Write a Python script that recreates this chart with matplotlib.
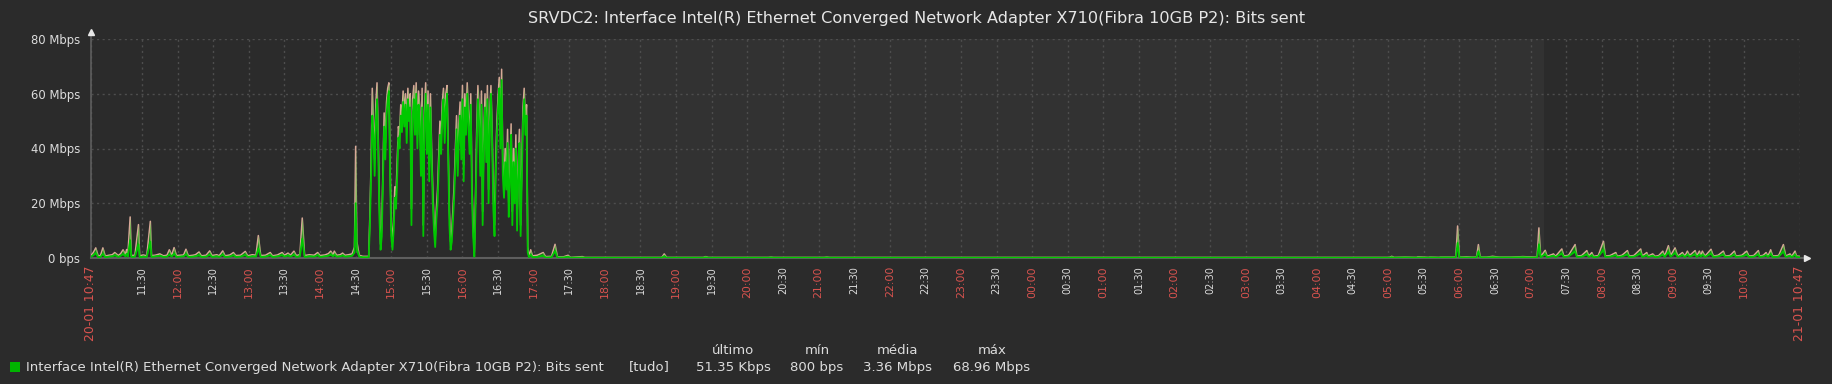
import matplotlib
matplotlib.use("Agg")
import matplotlib.pyplot as plt
from matplotlib.patches import Rectangle

# values in Mbps, time in minutes since 20-01 10:47

# 10:47 - 14:39, quiet with spikes
quiet_t = [
    0, 2, 4, 6, 8, 10, 12, 15, 18, 20, 23, 25, 27, 29, 30, 31, 33, 34, 37, 40,
    41, 44, 47, 50, 51, 54, 58, 61, 64, 66, 68, 70, 72, 75, 78, 80, 82, 86, 88, 91,
    93, 97, 100, 102, 106, 108, 111, 113, 117, 120, 122, 126, 130, 132, 136, 139, 141, 143, 147, 151,
    153, 157, 161, 163, 166, 168, 171, 173, 176, 178, 180, 184, 188, 191, 193, 197, 200, 202, 204, 205,
    207, 210, 212, 214, 217, 220, 222, 223, 224, 226, 229, 232,
]
quiet_avg = [
    0.5, 1.0, 1.8, 0.3, 0.4, 1.5, 0.3, 0.5, 0.6, 1.0, 0.4, 0.8, 1.4, 0.6, 1.5, 0.5, 6.5, 0.4, 0.5, 5.0,
    0.3, 0.5, 0.4, 6.0, 0.4, 0.6, 0.8, 0.4, 0.5, 1.2, 0.5, 1.6, 0.4, 0.5, 0.6, 1.4, 0.4, 0.5, 0.6, 1.0,
    0.4, 0.5, 1.2, 0.4, 0.6, 0.4, 1.2, 0.4, 0.5, 1.0, 0.4, 0.5, 1.1, 0.4, 0.6, 0.5, 3.5, 0.4, 0.5, 1.0,
    0.4, 0.6, 1.0, 0.5, 0.9, 0.5, 1.2, 0.4, 0.6, 7.0, 0.4, 0.6, 0.5, 1.0, 0.4, 0.6, 0.8, 1.2, 0.6, 1.2,
    0.5, 0.6, 0.9, 0.5, 0.6, 0.8, 2.0, 20.0, 3.0, 0.5, 0.3, 0.3,
]
quiet_max = [
    1.0, 2.0, 3.7, 0.8, 0.9, 3.7, 0.7, 1.0, 1.2, 2.0, 0.9, 1.6, 3.0, 1.2, 3.1, 1.0, 15.0, 0.9, 1.0, 12.2,
    0.8, 1.1, 0.8, 13.4, 0.9, 1.0, 1.5, 0.8, 1.0, 3.0, 1.0, 3.8, 0.9, 1.0, 1.1, 3.2, 0.8, 1.0, 1.2, 2.2,
    0.8, 1.0, 2.6, 0.9, 1.2, 0.8, 2.6, 0.8, 1.1, 2.0, 0.9, 1.0, 2.4, 0.8, 1.2, 1.0, 8.2, 0.9, 1.0, 2.0,
    0.8, 1.1, 2.0, 1.0, 1.8, 1.0, 2.5, 0.9, 1.2, 14.6, 0.9, 1.2, 1.0, 2.0, 0.9, 1.1, 1.6, 2.5, 1.2, 2.5,
    1.0, 1.2, 1.8, 1.0, 1.2, 1.5, 4.0, 40.8, 6.0, 1.0, 0.6, 0.6,
]

# 14:41 - 16:56, one sample per minute
busy_start = 234
busy_avg = [
    0.3, 12, 30, 52, 45, 30, 50, 58, 40, 15, 3, 8, 28, 48, 36, 52, 58, 61, 30, 8,
    3, 10, 22, 18, 30, 44, 40, 52, 46, 57, 48, 56, 42, 58, 50, 55, 12, 52, 58, 45,
    60, 40, 56, 50, 30, 55, 8, 48, 60, 38, 56, 28, 55, 35, 20, 10, 4, 14, 20, 32,
    45, 38, 52, 58, 42, 55, 60, 35, 12, 3, 6, 14, 22, 35, 47, 30, 44, 52, 36, 58,
    28, 55, 45, 60, 48, 38, 56, 22, 8, 0.5, 18, 42, 58, 50, 30, 56, 12, 40, 55, 35,
    58, 20, 48, 60, 42, 18, 8, 30, 45, 55, 62, 40, 65, 30, 22, 35, 25, 42, 15, 28,
    45, 12, 35, 20, 40, 10, 30, 42, 8, 30, 50, 58, 45, 52, 2, 0.3,
]
busy_max = [
    0.6, 16, 35, 62, 50, 36, 56, 64, 45, 20, 5, 12, 33, 53, 42, 57, 62, 64, 35, 12,
    6, 14, 26, 23, 35, 48, 45, 56, 52, 61, 53, 60, 48, 62, 55, 60, 18, 58, 63, 50,
    64, 45, 61, 55, 36, 62, 12, 54, 64, 44, 61, 34, 60, 40, 25, 14, 7, 18, 25, 37,
    50, 44, 57, 62, 47, 60, 63, 40, 17, 6, 10, 18, 27, 40, 52, 36, 49, 57, 41, 63,
    34, 60, 50, 64, 53, 44, 60, 27, 12, 2, 23, 47, 63, 55, 35, 61, 17, 45, 60, 40,
    63, 25, 53, 63, 47, 23, 12, 35, 50, 59, 66, 45, 68.96, 35, 27, 40, 30, 47, 20, 33,
    49, 17, 40, 25, 45, 14, 35, 47, 12, 35, 55, 62, 50, 56, 4, 0.6,
]

# 16:57 - 10:47, mostly idle
late_t = [
    370.5, 372, 376, 381, 383, 388, 391, 393, 398, 402, 404, 414, 416,
    440, 470, 481, 483, 485, 516, 518, 520, 571, 573, 575, 618, 620, 622, 700, 800, 900,
    1000, 1094, 1096, 1098, 1107, 1117, 1118, 1127, 1128, 1136, 1137,
    1150, 1151.5, 1153, 1159, 1163.6, 1167.5, 1169, 1170.5, 1176, 1181, 1186.5, 1196.5,
    1206.5, 1213.7, 1218.5, 1220, 1221.5,
    1225.3, 1227, 1232.3, 1234, 1239.3, 1241, 1245, 1250.5, 1252, 1256, 1260.4, 1262, 1264.6,
    1266, 1270, 1274.4, 1276, 1280, 1284.8, 1286, 1290, 1294.6, 1296, 1300, 1305.8, 1307,
    1310.9, 1312, 1315.9, 1318, 1321, 1324.4, 1326, 1329.1, 1331, 1334.7, 1337, 1340.9, 1343,
    1345.1, 1347, 1351.6, 1353, 1355.2, 1356.5, 1357.7, 1360, 1365, 1367, 1371, 1375.4, 1377,
    1381, 1384.7, 1386, 1391, 1395.1, 1397, 1401, 1404.9, 1406, 1409, 1411.4, 1413, 1415.3,
    1417, 1422, 1426, 1428, 1431.6, 1433, 1435.8, 1437, 1440,
]
late_avg = [
    1.2, 0.3, 0.4, 0.8, 0.2, 0.3, 2.5, 0.2, 0.2, 0.5, 0.1, 0.2, 0.1,
    0.1, 0.1, 0.1, 0.7, 0.1, 0.1, 0.3, 0.1, 0.1, 0.2, 0.1, 0.1, 0.2, 0.1, 0.1, 0.1, 0.1,
    0.1, 0.1, 0.3, 0.1, 0.2, 0.1, 0.2, 0.1, 0.2, 0.1, 0.2,
    0.2, 5.5, 0.2, 0.2, 0.2, 0.2, 2.5, 0.2, 0.2, 0.3, 0.2, 0.2,
    0.3, 0.2, 0.2, 5.0, 0.3,
    1.4, 0.3, 0.8, 0.3, 1.6, 0.4, 0.6, 2.4, 0.4, 0.5, 1.3, 0.4, 1.0,
    0.3, 0.5, 3.0, 0.4, 0.5, 1.0, 0.3, 0.6, 1.3, 0.4, 0.5, 1.6, 0.4,
    1.0, 0.4, 0.8, 0.3, 0.5, 1.2, 0.4, 2.2, 0.5, 1.8, 0.4, 1.0, 0.4,
    1.2, 0.5, 1.3, 0.4, 1.2, 0.5, 1.2, 0.4, 1.6, 0.4, 0.6, 1.2, 0.4,
    0.5, 1.2, 0.4, 0.6, 1.2, 0.4, 0.5, 1.3, 0.4, 0.6, 1.0, 0.4, 1.5,
    0.4, 0.5, 2.4, 0.4, 0.8, 0.3, 1.2, 0.4, 0.3,
]
late_max = [
    3.0, 0.8, 1.0, 2.0, 0.5, 0.6, 5.0, 0.4, 0.4, 1.0, 0.2, 0.5, 0.2,
    0.2, 0.2, 0.2, 1.5, 0.2, 0.2, 0.5, 0.2, 0.2, 0.3, 0.2, 0.2, 0.3, 0.2, 0.2, 0.2, 0.2,
    0.2, 0.2, 0.6, 0.2, 0.3, 0.2, 0.4, 0.2, 0.3, 0.2, 0.3,
    0.3, 11.7, 0.3, 0.4, 0.3, 0.3, 4.9, 0.3, 0.3, 0.6, 0.3, 0.3,
    0.5, 0.4, 0.3, 11.0, 0.5,
    2.8, 0.6, 1.5, 0.6, 3.3, 0.7, 1.0, 4.9, 0.7, 0.9, 2.7, 0.7, 2.0,
    0.6, 0.9, 6.1, 0.7, 0.9, 2.0, 0.6, 1.0, 2.7, 0.7, 0.9, 3.3, 0.7,
    2.0, 0.7, 1.5, 0.6, 0.9, 2.5, 0.7, 4.5, 0.9, 3.7, 0.7, 2.0, 0.7,
    2.5, 0.9, 2.7, 0.7, 2.5, 0.9, 2.5, 0.7, 3.2, 0.7, 1.0, 2.5, 0.7,
    0.9, 2.5, 0.7, 1.0, 2.5, 0.7, 0.9, 2.7, 0.7, 1.0, 2.0, 0.7, 3.0,
    0.7, 0.9, 4.9, 0.7, 1.5, 0.6, 2.5, 0.7, 0.6,
]

tick_times = ["11:30", "12:00", "12:30", "13:00", "13:30", "14:00", "14:30", "15:00", "15:30",
              "16:00", "16:30", "17:00", "17:30", "18:00", "18:30", "19:00", "19:30", "20:00",
              "20:30", "21:00", "21:30", "22:00", "22:30", "23:00", "23:30", "00:00", "00:30",
              "01:00", "01:30", "02:00", "02:30", "03:00", "03:30", "04:00", "04:30", "05:00",
              "05:30", "06:00", "06:30", "07:00", "07:30", "08:00", "08:30", "09:00", "09:30",
              "10:00"]
start_label = "20-01 10:47"
end_label = "21-01 10:47"
start_time = "10:47"
span_min = 1440
offhours = ("17:00", "07:11")

y_ticks = [0, 20, 40, 60, 80]
y_labels = ["0 bps", "20 Mbps", "40 Mbps", "60 Mbps", "80 Mbps"]

title = "SRVDC2: Interface Intel(R) Ethernet Converged Network Adapter X710(Fibra 10GB P2): Bits sent"
series_name = "Interface Intel(R) Ethernet Converged Network Adapter X710(Fibra 10GB P2): Bits sent"
stat_names = ["último", "mín", "média", "máx"]
stat_values = ["51.35 Kbps", "800 bps", "3.36 Mbps", "68.96 Mbps"]


def to_min(hhmm):
    h, m = map(int, hhmm.split(":"))
    h0, m0 = map(int, start_time.split(":"))
    return ((h * 60 + m) - (h0 * 60 + m0)) % span_min


busy_t = list(range(busy_start, busy_start + len(busy_avg)))
t_min = quiet_t + busy_t + late_t
avg_mbps = quiet_avg + busy_avg + late_avg
max_mbps = quiet_max + busy_max + late_max

BG = "#2b2b2b"
BG_OFF = "#323232"
GRID = "#4e4e4e"
TXT = "#dcdcdc"
RED = "#d9534f"
GREEN = "#00c800"
TAN = "#d8a898"

W, H = 1833, 384
fig = plt.figure(figsize=(W / 100, H / 100), dpi=100, facecolor=BG)
ax = fig.add_axes([91 / W, 1 - 258 / H, 1709 / W, (258 - 39) / H])
ax.set_facecolor(BG)
ax.set_xlim(0, span_min)
ax.set_ylim(0, 80)

ax.axvspan(to_min(offhours[0]), to_min(offhours[1]), color=BG_OFF, lw=0, zorder=0)

for s in ax.spines.values():
    s.set_visible(False)

xt = [0] + [to_min(t) for t in tick_times] + [span_min]
xl = [start_label] + tick_times + [end_label]
ax.set_xticks(xt)
ax.set_xticklabels(xl, rotation=90)
ax.tick_params(axis="x", length=0, pad=5.8)
for lab, txt in zip(ax.get_xticklabels(), xl):
    if txt in (start_label, end_label):
        lab.set_color(RED)
        lab.set_fontsize(8.9)
    elif txt.endswith(":00"):
        lab.set_color(RED)
        lab.set_fontsize(7.9)
    else:
        lab.set_color(TXT)
        lab.set_fontsize(7)

ax.set_yticks(y_ticks)
ax.set_yticklabels(y_labels)
ax.tick_params(axis="y", length=0, pad=7.7, labelsize=8.4, labelcolor=TXT)

ax.grid(True, color=GRID, linestyle=(0, (1.5, 2.5)), linewidth=1)
ax.set_axisbelow(True)

ax.plot(t_min, max_mbps, color=TAN, lw=1.1, zorder=3)
ax.fill_between(t_min, avg_mbps, max_mbps, color=GREEN, alpha=0.5, lw=0, zorder=3)
ax.plot(t_min, avg_mbps, color=GREEN, lw=1.3, zorder=4)

# axes with arrows
ax.plot([0, 0], [0, 1.02], transform=ax.transAxes, color="#5e5e5e", lw=1.2, clip_on=False, zorder=2)
ax.plot([0, 1.004], [0, 0], transform=ax.transAxes, color="#5e5e5e", lw=1.5, clip_on=False, zorder=2)
ax.plot([0], [1.03], marker="^", ms=4, color="#e8e8e8", transform=ax.transAxes, clip_on=False)
ax.plot([1.004], [0], marker=">", ms=4, color="#e8e8e8", transform=ax.transAxes, clip_on=False)

fig.text(0.5, 1 - 19 / H, title, ha="center", va="center", color="#e6e6e6", fontsize=11.6)

# legend
fig.patches.append(Rectangle((10 / W, 1 - 372 / H), 10 / W, 10 / H, transform=fig.transFigure,
                             facecolor="#00b400", edgecolor="none"))
fig.text(26 / W, 1 - 367 / H, series_name, ha="left", va="center", color=TXT, fontsize=9.5)
fig.text(649 / W, 1 - 367 / H, "[tudo]", ha="center", va="center", color=TXT, fontsize=9.5)
for x, n, v in zip([733, 817, 898, 992], stat_names, stat_values):
    fig.text(x / W, 1 - 351 / H, n, ha="center", va="center", color=TXT, fontsize=9.5)
    fig.text(x / W, 1 - 367 / H, v, ha="center", va="center", color=TXT, fontsize=9.5)

fig.savefig("out.png", dpi=100, facecolor=BG)
